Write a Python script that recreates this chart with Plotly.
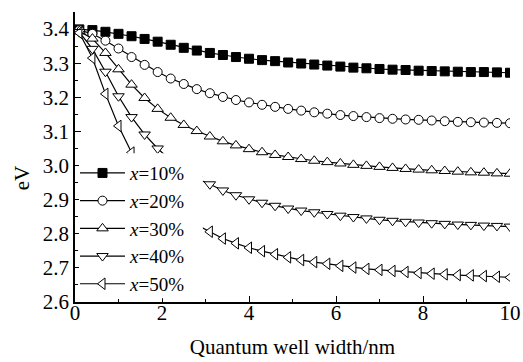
import plotly.graph_objects as go

# Quantum well width (nm)
width_nm = [0.1, 0.4, 0.7, 1.0, 1.3, 1.6, 1.9, 2.2, 2.5, 2.8, 3.1, 3.4, 3.7,
            4.0, 4.3, 4.6, 4.9, 5.2, 5.5, 5.8, 6.1, 6.4, 6.7, 7.0, 7.3, 7.6,
            7.9, 8.2, 8.5, 8.8, 9.1, 9.4, 9.7, 10.0]

# Energy (eV) for each In composition
e_x10 = [3.399, 3.397, 3.392, 3.386, 3.379, 3.371, 3.363, 3.354, 3.345, 3.337,
         3.330, 3.324, 3.318, 3.313, 3.309, 3.306, 3.302, 3.299, 3.296, 3.293,
         3.290, 3.287, 3.285, 3.283, 3.281, 3.280, 3.278, 3.277, 3.276, 3.275,
         3.274, 3.274, 3.273, 3.272]
e_x20 = [3.397, 3.386, 3.366, 3.343, 3.318, 3.295, 3.274, 3.255, 3.239, 3.224,
         3.212, 3.201, 3.192, 3.185, 3.178, 3.172, 3.166, 3.161, 3.156, 3.152,
         3.148, 3.145, 3.142, 3.139, 3.137, 3.135, 3.134, 3.132, 3.130, 3.128,
         3.127, 3.126, 3.125, 3.124]
e_x30 = [3.394, 3.372, 3.330, 3.282, 3.237, 3.198, 3.166, 3.140, 3.119, 3.101,
         3.085, 3.071, 3.059, 3.048, 3.039, 3.031, 3.025, 3.019, 3.014, 3.010,
         3.006, 3.002, 2.999, 2.996, 2.993, 2.990, 2.988, 2.986, 2.984, 2.982,
         2.980, 2.979, 2.977, 2.976]
e_x40 = [3.391, 3.342, 3.275, 3.203, 3.142, 3.091, 3.050, 3.015, 2.986, 2.962,
         2.945, 2.927, 2.913, 2.901, 2.891, 2.882, 2.874, 2.868, 2.863, 2.858,
         2.853, 2.849, 2.845, 2.841, 2.838, 2.835, 2.833, 2.831, 2.829, 2.827,
         2.826, 2.824, 2.823, 2.821]
e_x50 = [3.389, 3.315, 3.210, 3.116, 3.038, 2.975, 2.925, 2.885, 2.853, 2.826,
         2.806, 2.786, 2.772, 2.759, 2.749, 2.740, 2.731, 2.723, 2.717, 2.712,
         2.706, 2.701, 2.697, 2.694, 2.691, 2.688, 2.685, 2.683, 2.681, 2.679,
         2.678, 2.676, 2.674, 2.672]

series_names = ["<i>x</i>=10%", "<i>x</i>=20%", "<i>x</i>=30%", "<i>x</i>=40%", "<i>x</i>=50%"]
series_vals = [e_x10, e_x20, e_x30, e_x40, e_x50]
symbols = ["square", "circle", "triangle-up", "triangle-down", "triangle-left"]
fills = ["black", "white", "white", "white", "white"]
sizes = [9, 9, 10, 10, 10]

FONT = "Liberation Serif, Times New Roman, serif"

fig = go.Figure()
for name, vals, sym, fc, sz in zip(series_names, series_vals, symbols, fills, sizes):
    fig.add_trace(go.Scatter(
        x=width_nm, y=vals, name=name, mode="lines+markers",
        line=dict(color="black", width=1.2),
        marker=dict(symbol=sym, size=sz, color=fc, line=dict(color="black", width=1)),
    ))

# white legend background that hides the data beneath it
fig.add_shape(type="rect", xref="paper", yref="paper",
              x0=0.0092, x1=0.294, y0=0.013, y1=0.513,
              fillcolor="white", line=dict(width=0), layer="above")

fig.add_annotation(text="eV", xref="paper", yref="paper", x=-0.122, y=0.43,
                   xanchor="center", yanchor="middle",
                   textangle=-90, showarrow=False,
                   font=dict(family=FONT, size=21, color="black"))

axis_common = dict(
    showline=True, linecolor="black", linewidth=1.5, mirror=False,
    ticks="inside", ticklen=6, tickwidth=1.2, tickcolor="black",
    showgrid=False, zeroline=False, automargin=False,
    tickfont=dict(family=FONT, size=21, color="black"),
)

fig.update_layout(
    width=523, height=362,
    margin=dict(l=75, r=13, t=12, b=60, autoexpand=False),
    plot_bgcolor="white", paper_bgcolor="white",
    showlegend=True,
    legend=dict(x=0.0, y=0.51, xanchor="left", yanchor="top",
                bgcolor="rgba(0,0,0,0)", borderwidth=0, itemwidth=45,
                tracegroupgap=0,
                font=dict(family=FONT, size=19, color="black")),
    xaxis=dict(range=[0, 10], dtick=2, tick0=0, ticklabelstandoff=-9,
               minor=dict(dtick=1, ticks="inside", ticklen=3, tickcolor="black"),
               title=dict(text="Quantum well width/nm", standoff=15,
                          font=dict(family=FONT, size=21, color="black")),
               **axis_common),
    yaxis=dict(range=[2.6, 3.45], dtick=0.1, tick0=2.6, tickformat=".1f",
               minor=dict(dtick=0.05, ticks="inside", ticklen=3, tickcolor="black"),
               **axis_common),
)

fig.write_html("out.html", config={"displayModeBar": False},
               post_script="document.body.style.margin='0';document.body.style.padding='0';")
